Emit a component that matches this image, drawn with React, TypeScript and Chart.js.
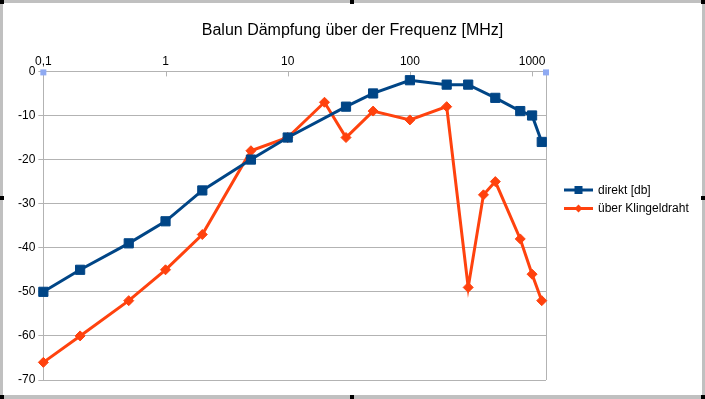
import React, { useEffect, useRef } from 'react';
import { Chart, registerables } from 'chart.js';

Chart.register(...registerables);

const chartTitle = 'Balun Dämpfung über der Frequenz [MHz]';
const seriesNames = ['direkt [db]', 'über Klingeldraht'];

const freqDirekt = [0.1, 0.2, 0.5, 1, 2, 5, 10, 30, 50, 100, 200, 300, 500, 800, 1000, 1200];
const dampDirekt = [-50, -45, -39, -34, -27, -20, -15, -8, -5, -2, -3, -3, -6, -9, -10, -16];

const freqKlingel = [0.1, 0.2, 0.5, 1, 2, 5, 10, 20, 30, 50, 100, 200, 300, 400, 500, 800, 1000, 1200];
const dampKlingel = [-66, -60, -52, -45, -37, -18, -15, -7, -15, -9, -11, -8, -49, -28, -25, -38, -46, -52];

const xTickValues = [0.1, 1, 10, 100, 1000];
const xTickLabels = ['0,1', '1', '10', '100', '1000'];
const xMin = 0.1;
const xMax = 1300;
const yMin = -70;
const yMax = 0;
const yStep = 10;

const BLUE = '#004586';
const ORANGE = '#ff420e';
const GRID = '#b3b3b3';
const FONT = '"Liberation Sans", Arial, sans-serif';

const decorPlugin = {
  id: 'decor',
  beforeDraw(chart: any) {
    const ctx = chart.ctx;
    ctx.save();
    ctx.fillStyle = '#ffffff';
    ctx.fillRect(0, 0, chart.width, chart.height);
    // title, centred on the whole canvas
    ctx.fillStyle = '#000000';
    ctx.font = '16px ' + FONT;
    ctx.textAlign = 'center';
    ctx.textBaseline = 'middle';
    ctx.fillText(chartTitle, chart.width / 2, 31);
    ctx.restore();
  },
  beforeDatasetsDraw(chart: any) {
    const ctx = chart.ctx;
    const a = chart.chartArea;
    const xs = chart.scales.x;
    ctx.save();
    ctx.strokeStyle = GRID;
    ctx.lineWidth = 1;
    ctx.beginPath();
    ctx.moveTo(Math.round(a.right) + 0.5, a.top);
    ctx.lineTo(Math.round(a.right) + 0.5, a.bottom);
    ctx.stroke();
    xTickValues.forEach((v) => {
      const px = Math.round(xs.getPixelForValue(v)) + 0.5;
      ctx.beginPath();
      ctx.moveTo(px, a.top);
      ctx.lineTo(px, a.top + 5);
      ctx.stroke();
    });
    ctx.restore();
  },
  afterDraw(chart: any) {
    const ctx = chart.ctx;
    const a = chart.chartArea;
    const W = chart.width;
    const H = chart.height;
    ctx.save();
    ctx.fillStyle = '#8faaf2';
    ctx.fillRect(a.left - 3, a.top - 2, 6, 6);
    ctx.fillRect(a.right - 3, a.top - 2, 6, 6);

    const lx = a.right + 18;
    const rows = [H / 2 - 9.5, H / 2 + 9];
    const colors = [BLUE, ORANGE];
    ctx.font = '12px ' + FONT;
    ctx.textBaseline = 'middle';
    ctx.textAlign = 'left';
    rows.forEach((y, i) => {
      ctx.strokeStyle = colors[i];
      ctx.lineWidth = 3;
      ctx.beginPath();
      ctx.moveTo(lx, y);
      ctx.lineTo(lx + 29, y);
      ctx.stroke();
      ctx.fillStyle = colors[i];
      const cx = lx + 14.5;
      if (i === 0) {
        ctx.fillRect(cx - 4, y - 4, 8, 8);
      } else {
        ctx.beginPath();
        ctx.moveTo(cx - 4, y);
        ctx.lineTo(cx, y - 4);
        ctx.lineTo(cx + 4, y);
        ctx.lineTo(cx, y + 4);
        ctx.closePath();
        ctx.fill();
      }
      ctx.fillStyle = '#000000';
      ctx.fillText(seriesNames[i], lx + 34, y + 0.5);
    });

    ctx.fillStyle = '#c0c0c0';
    ctx.fillRect(0, 0, W, 3);
    ctx.fillRect(0, 0, 3, H);
    ctx.fillRect(W - 3, 0, 3, H);
    ctx.fillRect(0, H - 4, W, 4);
    ctx.fillStyle = '#000000';
    const hx = [0, Math.round(W / 2) - 3, W - 4];
    const hy = [0, Math.round(H / 2) - 4, H - 4];
    hx.forEach((x) => {
      hy.forEach((y) => {
        if (x === hx[1] && y === hy[1]) return;
        ctx.fillRect(x, y, 4, 4);
      });
    });
    ctx.restore();
  },
};

export default function App() {
  const ref = useRef<HTMLCanvasElement>(null);

  useEffect(() => {
    if (!ref.current) return;
    Chart.defaults.font.family = FONT;
    const chart = new Chart(ref.current, {
      type: 'line',
      data: {
        datasets: [
          {
            label: seriesNames[0],
            data: freqDirekt.map((f, i) => ({ x: f, y: dampDirekt[i] })),
            borderColor: BLUE,
            backgroundColor: BLUE,
            borderWidth: 3,
            pointStyle: 'rect',
            pointRadius: 6.5,
            pointBorderWidth: 1,
            pointBackgroundColor: BLUE,
            pointBorderColor: BLUE,
            tension: 0,
            clip: false,
          },
          {
            label: seriesNames[1],
            data: freqKlingel.map((f, i) => ({ x: f, y: dampKlingel[i] })),
            borderColor: ORANGE,
            backgroundColor: ORANGE,
            borderWidth: 3,
            pointStyle: 'rectRot',
            pointRadius: 5,
            pointBorderWidth: 1,
            pointBackgroundColor: ORANGE,
            pointBorderColor: ORANGE,
            tension: 0,
            clip: false,
          },
        ],
      },
      options: {
        responsive: false,
        animation: false,
        devicePixelRatio: 1,
        layout: { padding: { left: 15, right: 159, top: 51, bottom: 19 } },
        plugins: {
          legend: { display: false },
          tooltip: { enabled: false },
          title: { display: false },
        },
        scales: {
          x: {
            type: 'logarithmic',
            position: 'top',
            min: xMin,
            max: xMax,
            afterBuildTicks: (s: any) => {
              s.ticks = xTickValues.map((v) => ({ value: v }));
            },
            grid: { display: true, drawOnChartArea: false, drawTicks: false, color: GRID },
            border: { display: true, color: GRID },
            ticks: {
              autoSkip: false,
              maxRotation: 0,
              padding: 3,
              color: '#000000',
              font: { size: 12, family: FONT },
              callback: (v: any) => {
                const i = xTickValues.indexOf(Number(v));
                return i >= 0 ? xTickLabels[i] : '';
              },
            },
          },
          y: {
            type: 'linear',
            min: yMin,
            max: yMax,
            grid: { color: GRID, tickLength: 5, lineWidth: 1 },
            border: { display: true, color: GRID },
            ticks: {
              stepSize: yStep,
              padding: 3,
              color: '#000000',
              font: { size: 12, family: FONT },
              callback: (v: any) => String(v),
            },
          },
        },
      },
      plugins: [decorPlugin],
    });
    return () => chart.destroy();
  }, []);

  return (
    <div style={{ position: 'absolute', left: 0, top: 0, width: 705, height: 399 }}>
      <canvas ref={ref} width={705} height={399} style={{ width: 705, height: 399, display: 'block' }} />
    </div>
  );
}
